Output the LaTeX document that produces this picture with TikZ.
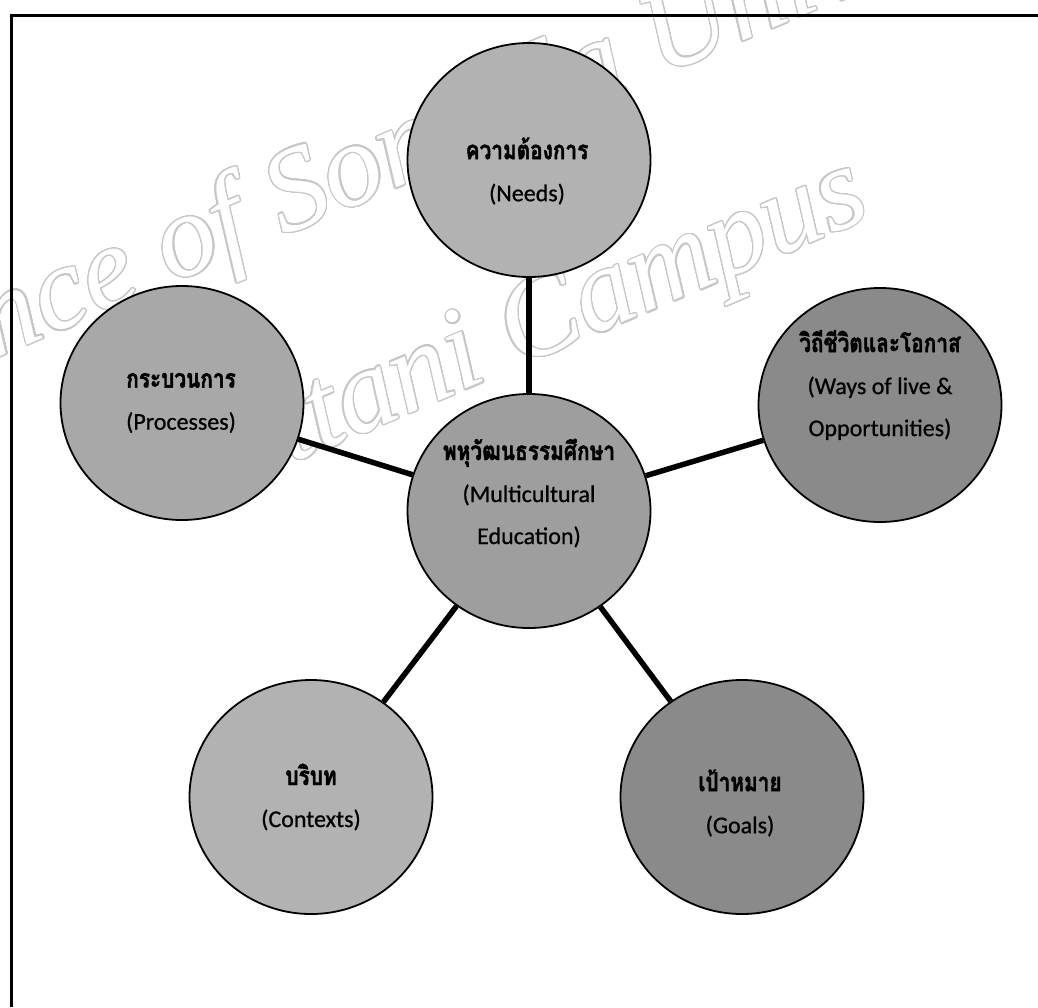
\documentclass[tikz,border=0pt]{standalone}
\usepackage{fontspec}
\usepackage{contour}
\newfontfamily\thaifont[Script=Thai, FakeStretch=0.8, FakeBold=1.6]{Loma}
\newfontfamily\latfont[FakeBold=0.7]{Carlito}
\newfontfamily\wmfont{Liberation Serif}
\usetikzlibrary{shapes.geometric}
\contourlength{1.3pt}
\contournumber{24}
\newcommand\thb[1]{{\thaifont\bfseries\fontsize{26}{42}\selectfont #1}}
\newcommand\enx[1]{{\latfont\fontsize{24}{42}\selectfont #1}}
\tikzset{
  bubble/.style={ellipse, draw=black, line width=1.8pt, minimum width=243pt, minimum height=234pt, inner sep=0pt},
  lbl/.style={align=center, inner sep=0pt, text=black, font=\fontsize{24}{42}\selectfont},
  link/.style={line width=5.5pt, draw=black},
  frameline/.style={line width=3pt, draw=black},
  wm/.style={rotate=23, inner sep=0pt, anchor=base west, text=white, font=\wmfont\itshape\fontsize{118}{118}\selectfont}
}
\begin{document}
\begin{tikzpicture}[x=1pt,y=-1pt]
\useasboundingbox (0,0) rectangle (1038,1007);
\fill[white] (0,0) rectangle (1038,1007);
% watermark
\node[wm] (wmA) at (-145,418) {\contour{black!22}{Prince of Songkla University}};
\node[wm] (wmB) at (170,515) {\contour{black!22}{Pattani Campus}};
% frame
\draw[frameline] (11,1007) -- (11,15) -- (1038,15);
% bubbles
\node[bubble, fill=black!30] (needs) at (529,160) {};
\node[bubble, fill=black!34] (proc) at (182,403) {};
\node[bubble, fill=black!38] (center) at (529,511) {};
\node[bubble, fill=black!46] (ways) at (880,405) {};
\node[bubble, fill=black!30] (ctx) at (311,797) {};
\node[bubble, fill=black!46] (goals) at (742,797) {};
% connectors
\draw[link] (center) -- (needs);
\draw[link] (center) -- (proc);
\draw[link] (center) -- (ways);
\draw[link] (center) -- (ctx);
\draw[link] (center) -- (goals);
% labels
\node[lbl] (tneeds) at (527,171) {\thb{ความต้องการ}\\\enx{(Needs)}};
\node[lbl] (tproc) at (181,403) {\thb{กระบวนการ}\\\enx{(Processes)}};
\node[lbl] (tcenter) at (529,493) {\thb{พหุวัฒนธรรมศึกษา}\\\enx{(Multicultural}\\\enx{Education)}};
\node[lbl] (tways) at (880,385) {\thb{วิถีชีวิตและโอกาส}\\\enx{(Ways of live \&}\\\enx{Opportunities)}};
\node[lbl] (tctx) at (311,797) {\thb{บริบท}\\\enx{(Contexts)}};
\node[lbl] (tgoals) at (740,803) {\thb{เป้าหมาย}\\\enx{(Goals)}};
\end{tikzpicture}
\end{document}
